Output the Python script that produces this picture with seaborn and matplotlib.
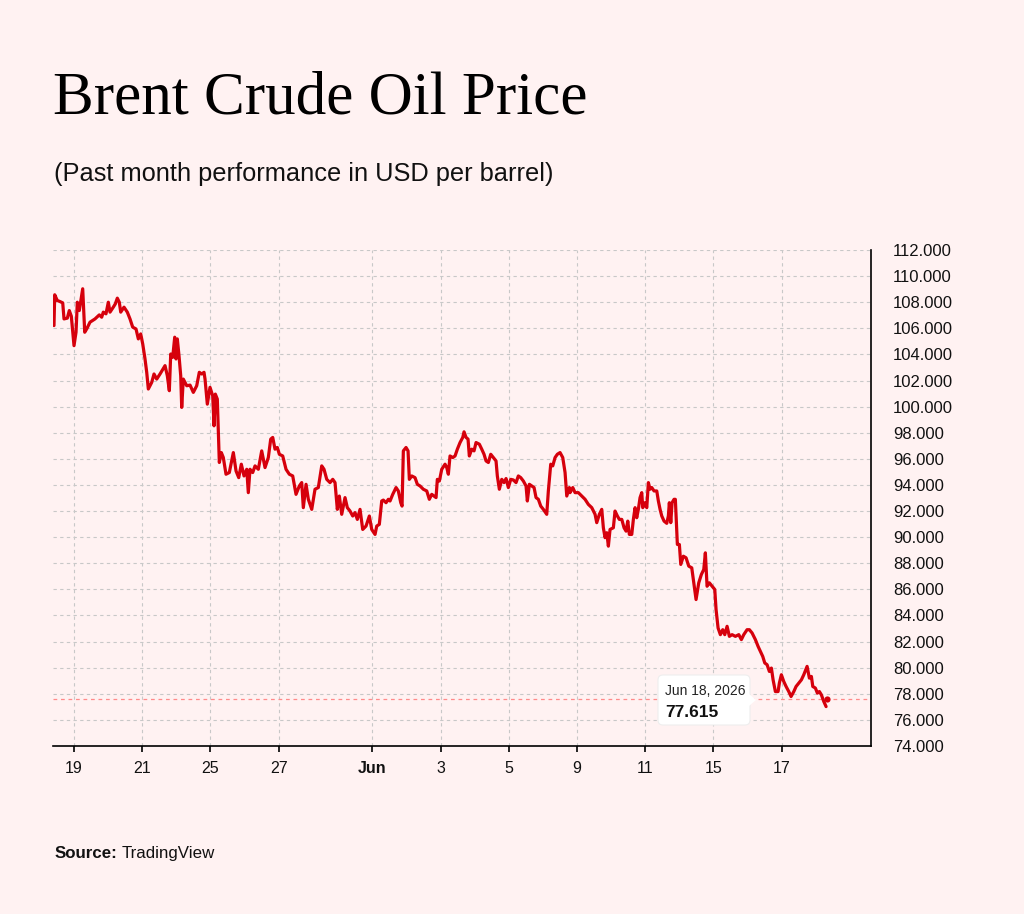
import numpy as np
import pandas as pd
import matplotlib
matplotlib.use("Agg")
import matplotlib.pyplot as plt
import seaborn as sns
from matplotlib.patches import FancyBboxPatch, Polygon
from matplotlib.transforms import IdentityTransform

# ---------------- data ----------------
day_pos = [
    -0.587, -0.566, -0.490, -0.411, -0.331, -0.293, -0.196, -0.138, -0.079, 0.000,
    0.059, 0.097, 0.155, 0.255, 0.314, 0.372, 0.469, 0.616, 0.742, 0.812,
    0.859, 0.938, 1.006, 1.056, 1.152, 1.211, 1.270, 1.328, 1.370, 1.466,
    1.563, 1.642, 1.721, 1.818, 1.886, 1.956, 2.015, 2.082, 2.132, 2.179,
    2.279, 2.346, 2.425, 2.522, 2.669, 2.736, 2.795, 2.836, 2.894, 2.953,
    2.991, 3.029, 3.079, 3.129, 3.158, 3.205, 3.305, 3.402, 3.499, 3.598,
    3.674, 3.745, 3.812, 3.842, 3.909, 3.988, 4.067, 4.106, 4.144, 4.202,
    4.261, 4.320, 4.378, 4.457, 4.554, 4.672, 4.751, 4.830, 4.906, 4.985,
    5.065, 5.111, 5.161, 5.240, 5.308, 5.405, 5.504, 5.601, 5.698, 5.768,
    5.827, 5.894, 5.962, 6.021, 6.120, 6.217, 6.314, 6.413, 6.510, 6.607,
    6.677, 6.724, 6.804, 6.871, 6.971, 7.067, 7.164, 7.264, 7.331, 7.411,
    7.507, 7.587, 7.654, 7.721, 7.780, 7.850, 7.947, 8.015, 8.094, 8.173,
    8.240, 8.308, 8.387, 8.466, 8.563, 8.660, 8.730, 8.827, 8.877, 8.953,
    9.023, 9.070, 9.150, 9.217, 9.267, 9.346, 9.443, 9.510, 9.581, 9.619,
    9.657, 9.736, 9.795, 9.833, 9.903, 10.000, 10.067, 10.147, 10.243, 10.343,
    10.419, 10.490, 10.557, 10.616, 10.654, 10.713, 10.783, 10.880, 10.930, 10.977,
    11.026, 11.106, 11.173, 11.241, 11.320, 11.399, 11.437, 11.496, 11.554, 11.592,
    11.663, 11.730, 11.789, 11.886, 11.956, 12.023, 12.082, 12.150, 12.220, 12.296,
    12.375, 12.413, 12.472, 12.543, 12.610, 12.669, 12.736, 12.806, 12.883, 12.962,
    13.029, 13.100, 13.176, 13.255, 13.293, 13.352, 13.422, 13.490, 13.548, 13.616,
    13.686, 13.762, 13.862, 13.909, 13.979, 14.038, 14.106, 14.173, 14.252, 14.331,
    14.399, 14.449, 14.525, 14.545, 14.625, 14.692, 14.789, 14.889, 14.985, 15.082,
    15.182, 15.279, 15.328, 15.405, 15.475, 15.522, 15.572, 15.622, 15.669, 15.718,
    15.815, 15.865, 15.933, 15.991, 16.062, 16.129, 16.188, 16.238, 16.284, 16.355,
    16.402, 16.452, 16.501, 16.548, 16.598, 16.648, 16.677, 16.745, 16.795, 16.842,
    16.891, 16.941, 17.009, 17.088, 17.135, 17.185, 17.235, 17.302, 17.381, 17.428,
    17.457, 17.499, 17.537, 17.595, 17.633, 17.692, 17.751, 17.792, 17.868, 17.947,
    18.026, 18.114, 18.240, 18.319, 18.396, 18.466, 18.513, 18.563, 18.631, 18.710,
    18.789, 18.827, 18.886, 18.953, 19.023, 19.082, 19.150, 19.217, 19.296, 19.393,
    19.493, 19.569, 19.639, 19.736, 19.804, 19.883, 19.980, 20.059, 20.126, 20.196,
    20.255, 20.323, 20.390, 20.449, 20.499, 20.566, 20.645, 20.683, 20.742, 20.812,
    20.880, 20.959, 21.026, 21.106, 21.173, 21.252, 21.329, 21.399, 21.496, 21.563,
    21.622, 21.663, 21.739, 21.798, 21.857, 21.915, 21.986, 22.053,
]

price = [
    106.21, 108.57, 108.13, 108.05, 107.95, 106.72, 106.78, 107.36, 106.93, 104.67,
    105.70, 108.00, 107.36, 109.03, 105.70, 105.95, 106.47, 106.72, 107.03, 106.85,
    107.24, 107.11, 108.00, 107.24, 107.62, 107.87, 108.31, 108.00, 107.24, 107.62,
    107.24, 106.72, 106.09, 105.95, 105.19, 105.57, 104.80, 103.65, 102.63, 101.35,
    101.86, 102.50, 102.11, 102.50, 103.14, 102.37, 101.22, 104.03, 103.78, 105.32,
    103.65, 105.19, 103.90, 102.37, 99.94, 102.11, 101.60, 101.65, 101.09, 101.60,
    102.63, 102.50, 102.63, 102.11, 100.19, 101.48, 100.83, 98.53, 100.96, 100.58,
    95.72, 96.48, 96.10, 94.82, 94.95, 96.48, 95.07, 94.56, 95.59, 94.69,
    95.20, 93.41, 95.20, 94.95, 95.46, 95.20, 96.61, 95.33, 96.10, 97.51,
    97.64, 96.74, 96.87, 96.35, 96.22, 95.20, 94.82, 94.69, 93.28, 93.92,
    94.18, 92.26, 94.05, 92.90, 92.13, 93.67, 93.80, 95.46, 95.20, 94.43,
    94.18, 94.43, 94.18, 92.13, 93.15, 91.75, 93.03, 92.26, 92.00, 91.62,
    91.88, 91.36, 92.13, 90.59, 90.85, 91.62, 90.59, 90.21, 90.85, 90.98,
    92.77, 92.84, 92.64, 92.90, 92.77, 93.28, 93.80, 93.54, 92.64, 92.38,
    96.61, 96.87, 96.61, 94.43, 94.69, 94.56, 94.05, 93.92, 93.67, 93.54,
    92.90, 93.28, 93.15, 93.03, 94.43, 94.30, 95.20, 95.59, 95.33, 94.82,
    96.22, 96.10, 96.22, 96.74, 97.25, 97.64, 98.07, 97.64, 97.51, 96.22,
    96.74, 96.61, 97.25, 97.12, 96.74, 96.35, 95.84, 95.72, 96.35, 96.10,
    95.84, 94.69, 93.67, 94.43, 94.18, 94.49, 93.80, 94.43, 94.38, 94.18,
    94.69, 94.56, 94.30, 93.92, 92.77, 94.05, 93.92, 93.80, 93.03, 92.90,
    92.38, 92.13, 91.75, 93.54, 95.59, 95.46, 96.10, 96.35, 96.48, 96.10,
    94.95, 93.15, 93.80, 93.41, 93.80, 93.41, 93.41, 93.15, 92.90, 92.51,
    92.26, 91.75, 91.11, 91.75, 92.13, 90.72, 89.96, 90.34, 89.31, 90.59,
    90.72, 92.00, 91.62, 91.36, 91.36, 90.72, 90.46, 91.23, 90.21, 90.21,
    91.36, 92.26, 91.49, 92.13, 93.03, 93.41, 92.26, 92.64, 92.26, 94.18,
    93.67, 93.80, 93.54, 93.54, 92.77, 92.13, 91.62, 91.23, 91.06, 91.62,
    92.64, 91.11, 92.64, 92.90, 92.90, 89.44, 89.44, 87.91, 88.54, 88.42,
    87.78, 87.65, 85.22, 86.50, 87.14, 87.52, 88.80, 86.24, 86.50, 86.24,
    85.99, 84.45, 83.04, 82.53, 82.91, 82.53, 83.17, 82.40, 82.53, 82.40,
    82.53, 82.15, 82.53, 82.91, 82.91, 82.66, 82.15, 81.63, 81.25, 80.86,
    80.36, 80.23, 79.71, 79.97, 79.07, 78.17, 78.17, 78.82, 79.46, 78.94,
    78.56, 78.17, 77.79, 78.17, 78.56, 78.82, 79.07, 79.46, 80.10, 79.20,
    79.33, 78.56, 78.44, 78.05, 78.17, 77.92, 77.41, 77.02,
]

tick_pos = [0, 2, 4, 6, 8.75, 10.75, 12.75, 14.75, 16.75, 18.75, 20.75]
tick_labels = ["19", "21", "25", "27", "Jun", "3", "5", "9", "11", "15", "17"]
y_ticks = list(range(74, 113, 2))

last_pos = 22.08
last_price = 77.615
last_date = "Jun 18, 2026"

title = "Brent Crude Oil Price"
subtitle = "(Past month performance in USD per barrel)"

# ---------------- style ----------------
BG = "#fff2f2"
RED = "#d6000c"
GRID = "#c8c8c8"

sns.set_theme(style="white")
plt.rcParams["font.family"] = ["Liberation Sans", "DejaVu Sans"]

W, H = 1024, 914
fig = plt.figure(figsize=(W / 100, H / 100), dpi=100, facecolor=BG)
ax = fig.add_axes([53 / W, 1 - 746 / H, (871 - 53) / W, (746 - 250) / H])
ax.set_facecolor(BG)

df = pd.DataFrame({"pos": day_pos, "price": price})
sns.lineplot(data=df, x="pos", y="price", sort=False, estimator=None,
             color=RED, linewidth=2.3, ax=ax, zorder=4)

ax.axhline(last_price, color="#ff8a8a", linestyle=(0, (3, 3)), linewidth=0.9, zorder=3)
ax.scatter([last_pos], [last_price], s=20, color=RED, zorder=5, linewidths=0)

ax.set_xlim(-0.616, 23.37)
ax.set_ylim(74, 112)

ax.set_xticks(tick_pos)
ax.set_xticklabels(tick_labels)
for lbl in ax.get_xticklabels():
    if lbl.get_text() == "Jun":
        lbl.set_fontweight("bold")
ax.set_yticks(y_ticks)
ax.set_yticklabels([f"{v:.3f}" for v in y_ticks])
ax.yaxis.tick_right()

ax.tick_params(axis="x", direction="out", length=4.5, width=1.2, color="black",
               labelsize=11.5, labelcolor="#111111", pad=6, bottom=True)
ax.tick_params(axis="y", length=0, labelsize=12, labelcolor="#111111", pad=16,
               right=False, left=False)

ax.grid(True, color=GRID, linestyle=(0, (3, 3)), linewidth=0.8, zorder=0)
ax.set_axisbelow(True)

for s in ["left", "top"]:
    ax.spines[s].set_visible(False)
for s in ["right", "bottom"]:
    ax.spines[s].set_visible(True)
    ax.spines[s].set_color("black")
    ax.spines[s].set_linewidth(1.2)

ax.set_xlabel("")
ax.set_ylabel("")

# ---------------- titles ----------------
fig.text(53 / W, 1 - 114 / H, title, family=["Liberation Serif", "DejaVu Serif"],
         fontsize=44, va="baseline", ha="left", color="black")
fig.text(54 / W, 1 - 181 / H, subtitle, fontsize=18.3, va="baseline", ha="left",
         color="#111111")
src = fig.text(55 / W, 1 - 858 / H, "Source:", fontsize=12.2, fontweight="bold",
               va="baseline", ha="left", color="#111111")
fig.canvas.draw()
bb = src.get_window_extent()
fig.text((bb.x1 + 4) / W, 1 - 858 / H, "TradingView", fontsize=12.2,
         va="baseline", ha="left", color="#111111")

# ---------------- tooltip ----------------
box = FancyBboxPatch((658, H - 725), 92, 50, boxstyle="round,pad=0,rounding_size=5",
                     transform=IdentityTransform(), facecolor="white",
                     edgecolor="#eeeeee", linewidth=0.8, zorder=10)
fig.patches.append(box)
ptr = Polygon([(749, H - 694), (756, H - 700), (749, H - 706)], closed=True,
              transform=IdentityTransform(), facecolor="white", edgecolor="none",
              zorder=11)
fig.patches.append(ptr)
fig.text(665 / W, 1 - 695 / H, last_date, fontsize=10, color="#222222",
         va="baseline", ha="left", zorder=12)
fig.text(665 / W, 1 - 717 / H, f"{last_price:.3f}", fontsize=12.5,
         fontweight="bold", color="#111111", va="baseline", ha="left", zorder=12)

fig.savefig("out.png", dpi=100, facecolor=BG)
